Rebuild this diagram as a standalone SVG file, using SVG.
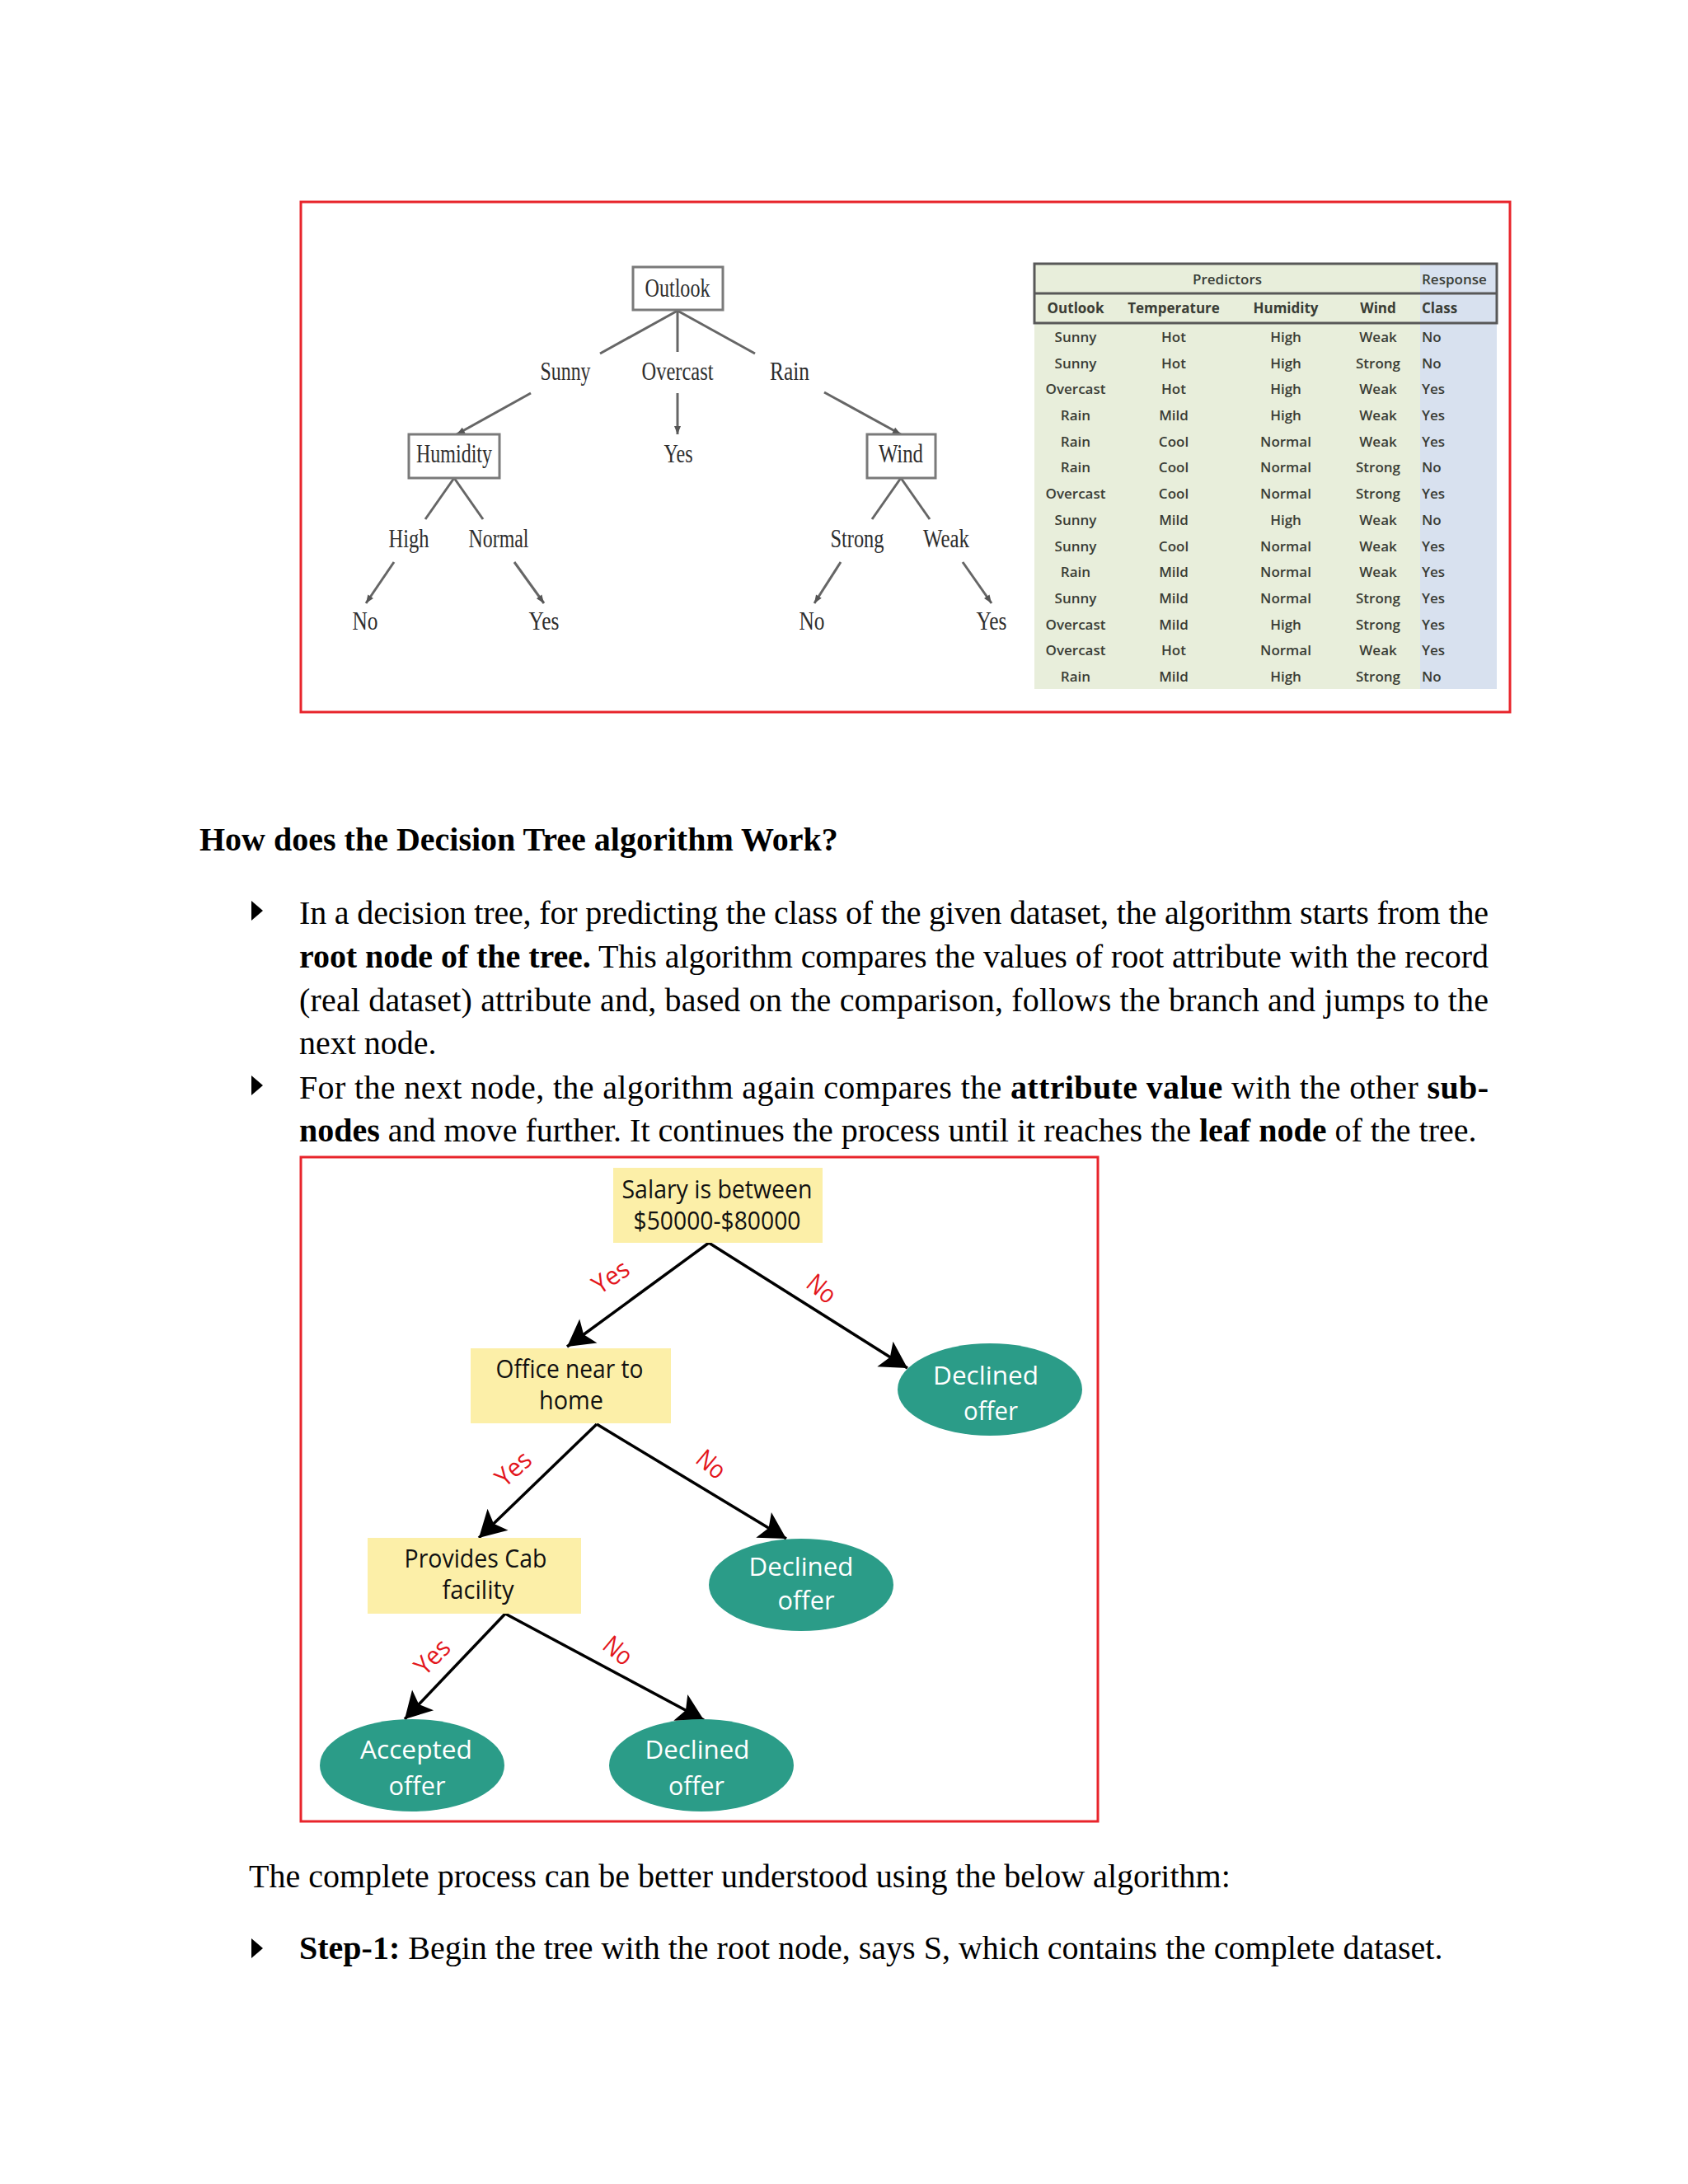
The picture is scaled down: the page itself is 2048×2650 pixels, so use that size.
<svg xmlns="http://www.w3.org/2000/svg" width="2048" height="2650" viewBox="0 0 2048 2650">
<style>
.frame{fill:none;stroke:#e8242b;stroke-width:3}
.t1{font-family:"Liberation Serif","Times New Roman",serif;font-size:31px;fill:#2e2e2e;text-anchor:middle}
.t1box{fill:#fff;stroke:#7a7a7a;stroke-width:3}
.t1line{stroke:#666;stroke-width:3;fill:none}
.tb{font-family:"Open Sans","Liberation Sans",sans-serif;font-size:17px;fill:#3a3d36;font-weight:600;text-anchor:middle}
.tbh{font-weight:700}
.tbl{text-anchor:start}
.body{font-family:"Liberation Serif","Times New Roman",serif;font-size:40px;fill:#000}
.b{font-weight:700}
.ynode{fill:#fcefa8}
.leaf{fill:#2b9c88}
.nt{font-family:"Open Sans","Liberation Sans",sans-serif;font-size:31px;fill:#111;text-anchor:middle}
.lt{font-family:"Open Sans","Liberation Sans",sans-serif;font-size:31px;fill:#fff;text-anchor:middle}
.edge{stroke:#000;stroke-width:3.5;fill:none}
.lab{font-family:"Open Sans","Liberation Sans",sans-serif;font-size:31px;fill:#e3151b;text-anchor:middle}
</style>
<defs>
<marker id="big" markerUnits="userSpaceOnUse" markerWidth="80" markerHeight="80" viewBox="-40 -40 80 80" refX="0" refY="0" orient="auto" overflow="visible">
<path d="M0,0 L-32,-18 L-25,0 L-32,18 Z" fill="#000"/>
</marker>
<marker id="small" markerUnits="userSpaceOnUse" markerWidth="30" markerHeight="30" viewBox="-15 -15 30 30" refX="0" refY="0" orient="auto" overflow="visible">
<path d="M0,0 L-10,-4 L-10,4 Z" fill="#555"/>
</marker>
</defs>
<rect width="2048" height="2650" fill="#fff"/>

<!-- Figure 1 -->
<rect class="frame" x="365" y="245" width="1467" height="619"/>
<g id="connectors-top">
<line class="t1line" x1="822" y1="377" x2="728" y2="429"/>
<line class="t1line" x1="822" y1="377" x2="822" y2="427" stroke-width="2"/>
<line class="t1line" x1="822" y1="377" x2="916" y2="429"/>
<line class="t1line" x1="644" y1="477" x2="554" y2="527" marker-end="url(#small)"/>
<line class="t1line" x1="822" y1="477" x2="822" y2="527" stroke-width="2" marker-end="url(#small)"/>
<line class="t1line" x1="1000" y1="476" x2="1093" y2="527" marker-end="url(#small)"/>
<line class="t1line" x1="551" y1="580" x2="516" y2="630"/>
<line class="t1line" x1="551" y1="580" x2="586" y2="630"/>
<line class="t1line" x1="478" y1="682" x2="444" y2="732" marker-end="url(#small)"/>
<line class="t1line" x1="624" y1="682" x2="660" y2="732" marker-end="url(#small)"/>
<line class="t1line" x1="1093" y1="580" x2="1058" y2="630"/>
<line class="t1line" x1="1093" y1="580" x2="1128" y2="630"/>
<line class="t1line" x1="1020" y1="682" x2="988" y2="732" marker-end="url(#small)"/>
<line class="t1line" x1="1168" y1="682" x2="1203" y2="732" marker-end="url(#small)"/>
</g>
<g id="outlook"><rect class="t1box" x="768" y="324" width="109" height="52"/><text class="t1" x="822" y="360" textLength="79" lengthAdjust="spacingAndGlyphs">Outlook</text></g>
<g id="sunny"><text class="t1" x="686" y="461" textLength="61" lengthAdjust="spacingAndGlyphs">Sunny</text></g>
<g id="overcast"><text class="t1" x="822" y="461" textLength="87" lengthAdjust="spacingAndGlyphs">Overcast</text></g>
<g id="rain"><text class="t1" x="958" y="461" textLength="48" lengthAdjust="spacingAndGlyphs">Rain</text></g>
<g id="yes-overcast"><text class="t1" x="823" y="561" textLength="35" lengthAdjust="spacingAndGlyphs">Yes</text></g>
<g id="humidity"><rect class="t1box" x="496" y="527" width="110" height="53"/><text class="t1" x="551" y="561" textLength="92" lengthAdjust="spacingAndGlyphs">Humidity</text></g>
<g id="wind"><rect class="t1box" x="1052" y="527" width="83" height="53"/><text class="t1" x="1093" y="561" textLength="54" lengthAdjust="spacingAndGlyphs">Wind</text></g>
<g id="high"><text class="t1" x="496" y="664" textLength="49" lengthAdjust="spacingAndGlyphs">High</text></g>
<g id="normal"><text class="t1" x="605" y="664" textLength="73" lengthAdjust="spacingAndGlyphs">Normal</text></g>
<g id="strong"><text class="t1" x="1040" y="664" textLength="65" lengthAdjust="spacingAndGlyphs">Strong</text></g>
<g id="weak"><text class="t1" x="1148" y="664" textLength="56" lengthAdjust="spacingAndGlyphs">Weak</text></g>
<g id="no-high"><text class="t1" x="443" y="764" textLength="31" lengthAdjust="spacingAndGlyphs">No</text></g>
<g id="yes-normal"><text class="t1" x="660" y="764" textLength="37" lengthAdjust="spacingAndGlyphs">Yes</text></g>
<g id="no-strong"><text class="t1" x="985" y="764" textLength="31" lengthAdjust="spacingAndGlyphs">No</text></g>
<g id="yes-weak"><text class="t1" x="1203" y="764" textLength="37" lengthAdjust="spacingAndGlyphs">Yes</text></g>

<!-- Table -->
<g id="table">
<rect x="1255" y="320" width="468" height="516" fill="#e8eedb"/>
<rect x="1723" y="320" width="93" height="516" fill="#d8e1ef"/>
<rect x="1255" y="320" width="561" height="72" fill="none" stroke="#585858" stroke-width="3"/>
<line x1="1255" y1="356" x2="1816" y2="356" stroke="#585858" stroke-width="3"/>
<text class="tb" x="1489" y="345" font-weight="400" fill="#555">Predictors</text>
<text class="tb tbl" x="1725" y="345" font-weight="400" fill="#555">Response</text>
<text class="tb tbh" x="1305" y="380">Outlook</text>
<text class="tb tbh" x="1424" y="380">Temperature</text>
<text class="tb tbh" x="1560" y="380">Humidity</text>
<text class="tb tbh" x="1672" y="380">Wind</text>
<text class="tb tbh tbl" x="1725" y="380">Class</text>
<g>
<text class="tb" x="1305" y="415">Sunny</text><text class="tb" x="1424" y="415">Hot</text><text class="tb" x="1560" y="415">High</text><text class="tb" x="1672" y="415">Weak</text><text class="tb tbl" x="1725" y="415">No</text>
<text class="tb" x="1305" y="447">Sunny</text><text class="tb" x="1424" y="447">Hot</text><text class="tb" x="1560" y="447">High</text><text class="tb" x="1672" y="447">Strong</text><text class="tb tbl" x="1725" y="447">No</text>
<text class="tb" x="1305" y="478">Overcast</text><text class="tb" x="1424" y="478">Hot</text><text class="tb" x="1560" y="478">High</text><text class="tb" x="1672" y="478">Weak</text><text class="tb tbl" x="1725" y="478">Yes</text>
<text class="tb" x="1305" y="510">Rain</text><text class="tb" x="1424" y="510">Mild</text><text class="tb" x="1560" y="510">High</text><text class="tb" x="1672" y="510">Weak</text><text class="tb tbl" x="1725" y="510">Yes</text>
<text class="tb" x="1305" y="542">Rain</text><text class="tb" x="1424" y="542">Cool</text><text class="tb" x="1560" y="542">Normal</text><text class="tb" x="1672" y="542">Weak</text><text class="tb tbl" x="1725" y="542">Yes</text>
<text class="tb" x="1305" y="573">Rain</text><text class="tb" x="1424" y="573">Cool</text><text class="tb" x="1560" y="573">Normal</text><text class="tb" x="1672" y="573">Strong</text><text class="tb tbl" x="1725" y="573">No</text>
<text class="tb" x="1305" y="605">Overcast</text><text class="tb" x="1424" y="605">Cool</text><text class="tb" x="1560" y="605">Normal</text><text class="tb" x="1672" y="605">Strong</text><text class="tb tbl" x="1725" y="605">Yes</text>
<text class="tb" x="1305" y="637">Sunny</text><text class="tb" x="1424" y="637">Mild</text><text class="tb" x="1560" y="637">High</text><text class="tb" x="1672" y="637">Weak</text><text class="tb tbl" x="1725" y="637">No</text>
<text class="tb" x="1305" y="669">Sunny</text><text class="tb" x="1424" y="669">Cool</text><text class="tb" x="1560" y="669">Normal</text><text class="tb" x="1672" y="669">Weak</text><text class="tb tbl" x="1725" y="669">Yes</text>
<text class="tb" x="1305" y="700">Rain</text><text class="tb" x="1424" y="700">Mild</text><text class="tb" x="1560" y="700">Normal</text><text class="tb" x="1672" y="700">Weak</text><text class="tb tbl" x="1725" y="700">Yes</text>
<text class="tb" x="1305" y="732">Sunny</text><text class="tb" x="1424" y="732">Mild</text><text class="tb" x="1560" y="732">Normal</text><text class="tb" x="1672" y="732">Strong</text><text class="tb tbl" x="1725" y="732">Yes</text>
<text class="tb" x="1305" y="764">Overcast</text><text class="tb" x="1424" y="764">Mild</text><text class="tb" x="1560" y="764">High</text><text class="tb" x="1672" y="764">Strong</text><text class="tb tbl" x="1725" y="764">Yes</text>
<text class="tb" x="1305" y="795">Overcast</text><text class="tb" x="1424" y="795">Hot</text><text class="tb" x="1560" y="795">Normal</text><text class="tb" x="1672" y="795">Weak</text><text class="tb tbl" x="1725" y="795">Yes</text>
<text class="tb" x="1305" y="827">Rain</text><text class="tb" x="1424" y="827">Mild</text><text class="tb" x="1560" y="827">High</text><text class="tb" x="1672" y="827">Strong</text><text class="tb tbl" x="1725" y="827">No</text>
</g>
</g>

<!-- Body text -->
<g id="text-section">
<text class="body b" x="242" y="1032">How does the Decision Tree algorithm Work?</text>
<polygon points="305,1093 319,1105 305,1117" fill="#000"/>
<text class="body" x="363" y="1121" textLength="1443" lengthAdjust="spacing">In a decision tree, for predicting the class of the given dataset, the algorithm starts from the</text>
<text class="body" x="363" y="1174" textLength="1443" lengthAdjust="spacing"><tspan class="b">root node of the tree.</tspan> This algorithm compares the values of root attribute with the record</text>
<text class="body" x="363" y="1227" textLength="1443" lengthAdjust="spacing">(real dataset) attribute and, based on the comparison, follows the branch and jumps to the</text>
<text class="body" x="363" y="1279">next node.</text>
<polygon points="305,1305 319,1317 305,1329" fill="#000"/>
<text class="body" x="363" y="1333" textLength="1443" lengthAdjust="spacing">For the next node, the algorithm again compares the <tspan class="b">attribute value</tspan> with the other <tspan class="b">sub-</tspan></text>
<text class="body" x="363" y="1385"><tspan class="b">nodes</tspan> and move further. It continues the process until it reaches the <tspan class="b">leaf node</tspan> of the tree.</text>
</g>

<!-- Figure 2 -->
<rect class="frame" x="365" y="1404" width="967" height="806"/>
<g id="connectors">
<line class="edge" x1="860" y1="1508" x2="688" y2="1634" marker-end="url(#big)"/>
<line class="edge" x1="860" y1="1508" x2="1101" y2="1660" marker-end="url(#big)"/>
<line class="edge" x1="724" y1="1728" x2="581" y2="1866" marker-end="url(#big)"/>
<line class="edge" x1="724" y1="1728" x2="954" y2="1867" marker-end="url(#big)"/>
<line class="edge" x1="613" y1="1958" x2="491" y2="2086" marker-end="url(#big)"/>
<line class="edge" x1="613" y1="1958" x2="854" y2="2087" marker-end="url(#big)"/>
<text class="lab" transform="translate(747,1558) rotate(-34)" textLength="47" lengthAdjust="spacingAndGlyphs">Yes</text>
<text class="lab" transform="translate(990,1572) rotate(40)" textLength="36" lengthAdjust="spacingAndGlyphs">No</text>
<text class="lab" transform="translate(630,1790) rotate(-42)" textLength="47" lengthAdjust="spacingAndGlyphs">Yes</text>
<text class="lab" transform="translate(856,1785) rotate(40)" textLength="36" lengthAdjust="spacingAndGlyphs">No</text>
<text class="lab" transform="translate(532,2018) rotate(-45)" textLength="47" lengthAdjust="spacingAndGlyphs">Yes</text>
<text class="lab" transform="translate(743,2011) rotate(40)" textLength="36" lengthAdjust="spacingAndGlyphs">No</text>
</g>
<g id="salary"><rect class="ynode" x="744" y="1417" width="254" height="91"/>
<text class="nt" x="870" y="1454" textLength="231" lengthAdjust="spacingAndGlyphs">Salary is between</text>
<text class="nt" x="870" y="1492" textLength="203" lengthAdjust="spacingAndGlyphs">$50000-$80000</text></g>
<g id="office"><rect class="ynode" x="571" y="1636" width="243" height="91"/>
<text class="nt" x="691" y="1672" textLength="179" lengthAdjust="spacingAndGlyphs">Office near to</text>
<text class="nt" x="693" y="1710" textLength="78" lengthAdjust="spacingAndGlyphs">home</text></g>
<g id="declined1"><ellipse class="leaf" cx="1201" cy="1686" rx="112" ry="56"/>
<text class="lt" x="1196" y="1680" textLength="128" lengthAdjust="spacingAndGlyphs">Declined</text>
<text class="lt" x="1202" y="1723" textLength="66" lengthAdjust="spacingAndGlyphs">offer</text></g>
<g id="cab"><rect class="ynode" x="446" y="1866" width="259" height="92"/>
<text class="nt" x="577" y="1902" textLength="173" lengthAdjust="spacingAndGlyphs">Provides Cab</text>
<text class="nt" x="580" y="1940" textLength="87" lengthAdjust="spacingAndGlyphs">facility</text></g>
<g id="declined2"><ellipse class="leaf" cx="972" cy="1923" rx="112" ry="56"/>
<text class="lt" x="972" y="1912" textLength="127" lengthAdjust="spacingAndGlyphs">Declined</text>
<text class="lt" x="978" y="1953" textLength="69" lengthAdjust="spacingAndGlyphs">offer</text></g>
<g id="accepted"><ellipse class="leaf" cx="500" cy="2142" rx="112" ry="56"/>
<text class="lt" x="505" y="2134" textLength="136" lengthAdjust="spacingAndGlyphs">Accepted</text>
<text class="lt" x="506" y="2178" textLength="69" lengthAdjust="spacingAndGlyphs">offer</text></g>
<g id="declined3"><ellipse class="leaf" cx="851" cy="2142" rx="112" ry="56"/>
<text class="lt" x="846" y="2134" textLength="127" lengthAdjust="spacingAndGlyphs">Declined</text>
<text class="lt" x="845" y="2178" textLength="68" lengthAdjust="spacingAndGlyphs">offer</text></g>

<g id="text-bottom">
<text class="body" x="302" y="2290">The complete process can be better understood using the below algorithm:</text>
<polygon points="305,2352 319,2364 305,2376" fill="#000"/>
<text class="body" x="363" y="2377"><tspan class="b">Step-1:</tspan> Begin the tree with the root node, says S, which contains the complete dataset.</text>
</g>
</svg>
